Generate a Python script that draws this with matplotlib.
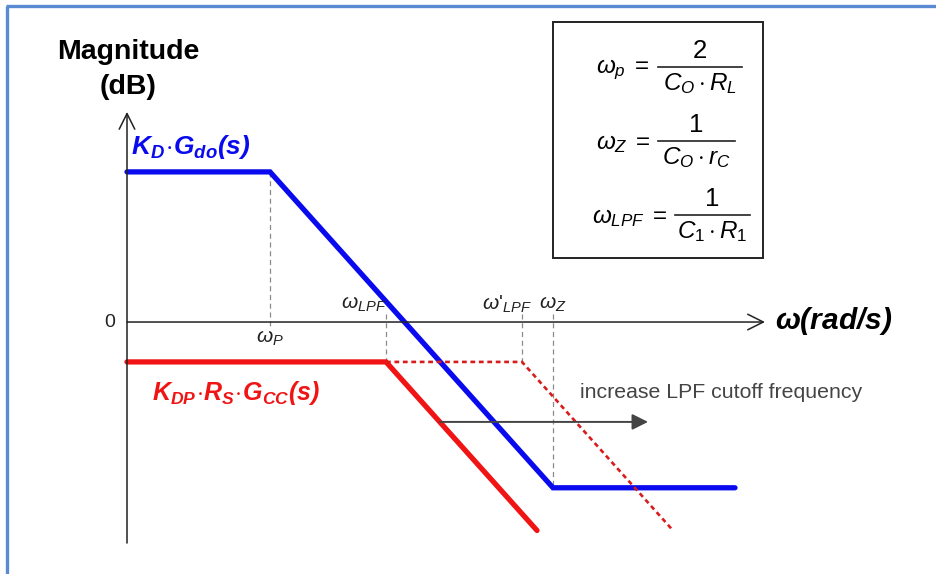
import matplotlib
matplotlib.use("Agg")
import matplotlib.pyplot as plt
from matplotlib.patches import Rectangle

plt.rcParams['font.family'] = ['Liberation Sans', 'DejaVu Sans']
plt.rcParams['mathtext.fontset'] = 'custom'
plt.rcParams['mathtext.rm'] = 'Liberation Sans'
plt.rcParams['mathtext.it'] = 'Liberation Sans:italic'
plt.rcParams['mathtext.bf'] = 'Liberation Sans:bold:italic'

# break frequencies (decades from the origin of the sketch)
w_p = 1.43
w_lpf = 2.59
w_lpf2 = 3.95
w_z = 4.26

# asymptotic magnitude curves (dB)
blue_x = [0.0, 1.43, 4.26, 6.08]
blue_y = [53.8, 53.8, -59.4, -59.4]
red_x = [0.0, 2.59, 4.10]
red_y = [-14.3, -14.3, -74.7]
red2_x = [2.59, 3.95, 5.46]
red2_y = [-14.3, -14.3, -74.7]

BLUE = '#0a0aef'
RED = '#f01414'
GRAY = '#8a8a8a'
DARK = '#444444'
INK = '#222222'

fig = plt.figure(figsize=(9.37, 5.74), dpi=100)
ax = fig.add_axes([0, 0, 1, 1])
ax.set_xlim(-1.27, 8.10)
ax.set_ylim(-90.3, 115.4)
ax.axis('off')

# axes with open arrow heads
ax.annotate('', xy=(6.38, 0), xytext=(0, 0),
            arrowprops=dict(arrowstyle='->', lw=1.1, color=INK, mutation_scale=28,
                            shrinkA=0, shrinkB=0))
ax.annotate('', xy=(0, 75.3), xytext=(0, -79.2),
            arrowprops=dict(arrowstyle='->', lw=1.1, color=INK, mutation_scale=28,
                            shrinkA=0, shrinkB=0))

# guide lines at the corner frequencies
dash = dict(color=GRAY, lw=0.9, ls=(0, (4, 3)))
ax.plot([w_p, w_p], [blue_y[1], -2], **dash)
ax.plot([w_lpf, w_lpf], [3, red_y[1]], **dash)
ax.plot([w_lpf2, w_lpf2], [3, red2_y[1]], **dash)
ax.plot([w_z, w_z], [3, blue_y[2]], **dash)

ax.plot(blue_x, blue_y, color=BLUE, lw=3.8, solid_capstyle='round', solid_joinstyle='miter')
ax.plot(red_x, red_y, color=RED, lw=3.8, solid_capstyle='round', solid_joinstyle='miter')
ax.plot(red2_x, red2_y, color='#d81c1c', lw=1.9, ls=(0, (1.8, 1.4)))

# shift of the LPF corner
ax.annotate('', xy=(5.21, -35.8), xytext=(3.13, -35.8),
            arrowprops=dict(arrowstyle='-|>', lw=1.4, color=DARK, mutation_scale=24,
                            shrinkA=0, shrinkB=0))
ax.text(4.53, -25.4, 'increase LPF cutoff frequency', fontsize=15.3, color=DARK,
        ha='left', va='center')

# curve labels
ax.text(0.04, 62.7, r'$\mathbf{K_D\!\cdot\! G_{do}(s)}$', fontsize=19, color=BLUE,
        ha='left', va='center')
ax.text(0.25, -25.4, r'$\mathbf{K_{DP}\!\cdot\! R_S\!\cdot\! G_{CC}(s)}$', fontsize=18,
        color=RED, ha='left', va='center')

# axis labels and frequency marks
ax.text(6.48, 0.5, r'$\mathbf{\omega(rad/s)}$', fontsize=21.5, ha='left', va='center')
ax.text(-0.12, 0, '0', fontsize=14, ha='right', va='center', color=INK)
ax.text(w_p, -6, r'$\omega_P$', fontsize=15, ha='center', va='center', color=INK)
ax.text(w_lpf - 0.22, 6.5, r'$\omega_{LPF}$', fontsize=15, ha='center', va='center', color=INK)
ax.text(w_lpf2 - 0.15, 6.5, r"$\omega$'$_{LPF}$", fontsize=15, ha='center', va='center',
        color=INK)
ax.text(w_z, 6.5, r'$\omega_Z$', fontsize=15, ha='center', va='center', color=INK)

# overlay in pixel units for the frame, title and formula box
lay = fig.add_axes([0, 0, 1, 1], facecolor='none')
lay.set_xlim(0, 937)
lay.set_ylim(574, 0)
lay.axis('off')

lay.plot([7, 7], [574, 6], color='#5a8ad2', lw=2.4, solid_capstyle='butt')
lay.plot([6, 937], [6, 6], color='#5a8ad2', lw=2.4, solid_capstyle='butt')

lay.text(128, 52, 'Magnitude', fontsize=20.5, fontweight='bold', ha='center', va='center')
lay.text(128, 87, '(dB)', fontsize=20.5, fontweight='bold', ha='center', va='center')

lay.add_patch(Rectangle((553, 22), 210, 236, fill=False, ec=INK, lw=1.4))

rows = [
    (r'$\omega_p$', 70, '2', r'$C_O\cdot R_L$', 658, 742),
    (r'$\omega_Z$', 144, '1', r'$C_O\cdot r_C$', 658, 735),
    (r'$\omega_{LPF}$', 218, '1', r'$C_1\cdot R_1$', 675, 750),
]
for lhs, yc, num, den, x0, x1 in rows:
    lay.text(x0 - 8, yc, lhs + r'$\;=$', fontsize=17.5, ha='right', va='center')
    lay.plot([x0, x1], [yc - 3, yc - 3], color=INK, lw=1.2)
    lay.text((x0 + x1) / 2, yc - 19, num, fontsize=18.5, ha='center', va='center')
    lay.text((x0 + x1) / 2, yc + 14, den, fontsize=17.5, ha='center', va='center')

fig.savefig('out.png', dpi=100)
